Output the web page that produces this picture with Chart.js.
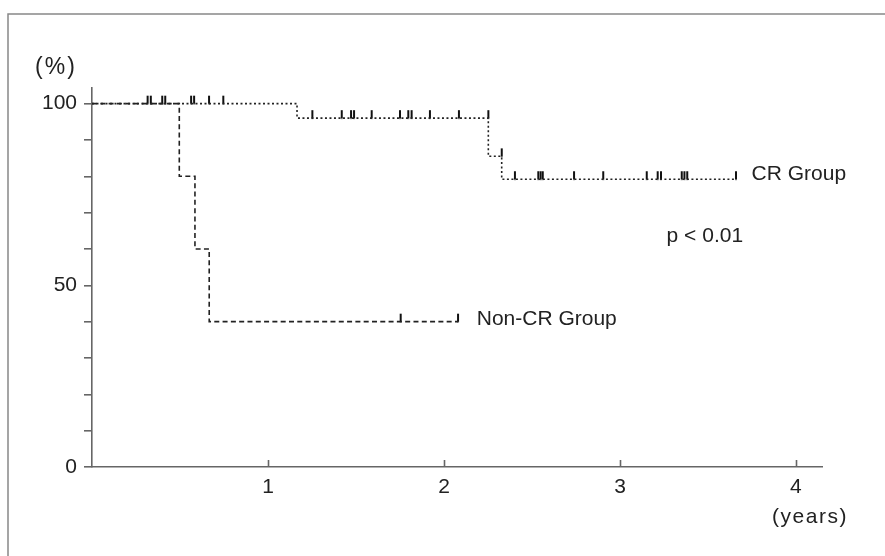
<!DOCTYPE html>
<html><head><meta charset="utf-8">
<script src="https://cdn.jsdelivr.net/npm/chart.js@4"></script>
<style>html,body{margin:0;padding:0;background:#fff;}canvas{display:block;}</style>
</head><body>
<canvas id="c" width="885" height="556"></canvas>
<script>
// ---- data ----
const xTickValues = [1, 2, 3, 4];
const yTickValues = [0, 10, 20, 30, 40, 50, 60, 70, 80, 90, 100];
const yLabelValues = [0, 50, 100];

const crTimes    = [0, 1.165, 2.252, 2.328, 3.659];
const crSurvival = [100, 96, 85.5, 79.2, 79.2];

const nonCrTimes    = [0, 0.496, 0.585, 0.666, 2.080];
const nonCrSurvival = [100, 80, 60, 40, 40];

const crCensorTimes = [0.316, 0.334, 0.399, 0.416, 0.563, 0.580, 0.665, 0.746,
  1.252, 1.419, 1.472, 1.489, 1.589, 1.750, 1.797, 1.816, 1.920, 2.085, 2.252,
  2.328,
  2.403, 2.536, 2.549, 2.561, 2.739, 2.905, 3.152, 3.214, 3.233, 3.351, 3.366, 3.382, 3.659];
const crCensorSurvival = [100, 100, 100, 100, 100, 100, 100, 100,
  96, 96, 96, 96, 96, 96, 96, 96, 96, 96, 96,
  85.5,
  79.2, 79.2, 79.2, 79.2, 79.2, 79.2, 79.2, 79.2, 79.2, 79.2, 79.2, 79.2, 79.2];

const nonCrCensorTimes    = [1.754, 2.080];
const nonCrCensorSurvival = [40, 40];

const labelCR = 'CR Group';
const labelNonCR = 'Non-CR Group';
const pText = 'p < 0.01';
const yUnit = '(%)';
const xUnit = '(years)';

// ---- styling ----
const FONT = "'Liberation Sans', Arial, Helvetica, sans-serif";
const INK = '#222';
const AXIS = '#666';

function pairs(xs, ys) { return xs.map((x, i) => ({ x: x, y: ys[i] })); }

// censor tick glyph: short vertical stroke rising from the point
const censorMark = document.createElement('canvas');
censorMark.width = 4; censorMark.height = 18;
(function () {
  const g = censorMark.getContext('2d');
  g.strokeStyle = '#111'; g.lineWidth = 2;
  g.beginPath(); g.moveTo(2, 1); g.lineTo(2, 9.5); g.stroke();
})();

const decorPlugin = {
  id: 'decor',
  beforeDraw(chart) {
    const ctx = chart.ctx;
    ctx.save();
    ctx.strokeStyle = '#888'; ctx.lineWidth = 1.5;
    ctx.beginPath();
    ctx.moveTo(8, 556); ctx.lineTo(8, 14); ctx.lineTo(885, 14);
    ctx.stroke();
    ctx.restore();
  },
  afterDraw(chart) {
    const ctx = chart.ctx;
    const xs = chart.scales.x, ys = chart.scales.y;
    ctx.save();
    // inward x-axis tick marks
    ctx.strokeStyle = AXIS; ctx.lineWidth = 1.6;
    const y0 = ys.getPixelForValue(0);
    xTickValues.forEach(v => {
      const px = Math.round(xs.getPixelForValue(v)) + 0.5;
      ctx.beginPath(); ctx.moveTo(px, y0); ctx.lineTo(px, y0 - 7); ctx.stroke();
    });
    // texts
    ctx.fillStyle = INK;
    ctx.font = '21px ' + FONT;
    ctx.textBaseline = 'middle';
    ctx.textAlign = 'left';
    ctx.fillText(labelCR, xs.getPixelForValue(3.748), ys.getPixelForValue(80.5));
    ctx.fillText(pText, xs.getPixelForValue(3.265), ys.getPixelForValue(63.4));
    ctx.fillText(labelNonCR, xs.getPixelForValue(2.186), ys.getPixelForValue(40.8));
    ctx.textAlign = 'center';
    ctx.font = '23px ' + FONT;
    if ('letterSpacing' in ctx) ctx.letterSpacing = '2px';
    ctx.fillText(yUnit, 56, 68);
    ctx.font = '21px ' + FONT;
    if ('letterSpacing' in ctx) ctx.letterSpacing = '1.5px';
    ctx.fillText(xUnit, 810, 517);
    ctx.restore();
  }
};

new Chart(document.getElementById('c'), {
  type: 'line',
  data: {
    datasets: [
      {
        label: labelNonCR,
        data: pairs(nonCrTimes, nonCrSurvival),
        stepped: 'before',
        borderColor: INK, borderWidth: 1.6, borderDash: [5, 3.3],
        pointRadius: 0, fill: false
      },
      {
        label: labelCR,
        data: pairs(crTimes, crSurvival),
        stepped: 'before',
        borderColor: INK, borderWidth: 1.6, borderDash: [2, 2.5],
        pointRadius: 0, fill: false
      },
      {
        label: labelCR + ' censored',
        data: pairs(crCensorTimes, crCensorSurvival),
        showLine: false, pointStyle: censorMark, pointRadius: 5
      },
      {
        label: labelNonCR + ' censored',
        data: pairs(nonCrCensorTimes, nonCrCensorSurvival),
        showLine: false, pointStyle: censorMark, pointRadius: 5
      }
    ]
  },
  options: {
    responsive: false,
    animation: false,
    events: [],
    layout: { padding: { top: 88, right: 63, left: 0, bottom: 0 } },
    plugins: { legend: { display: false }, tooltip: { enabled: false } },
    scales: {
      x: {
        type: 'linear', min: 0, max: 4.148,
        afterBuildTicks: s => { s.ticks = xTickValues.map(v => ({ value: v })); },
        afterFit: s => { s.height = 89; },
        grid: { display: false, drawTicks: false },
        border: { display: true, color: AXIS, width: 1.6 },
        ticks: { padding: 8, color: INK, font: { family: FONT, size: 21 }, maxRotation: 0 }
      },
      y: {
        type: 'linear', min: 0, max: 104.3,
        afterBuildTicks: s => { s.ticks = yTickValues.map(v => ({ value: v })); },
        afterFit: s => { s.width = 92; },
        grid: { drawOnChartArea: false, drawTicks: true, tickLength: 8, color: AXIS, lineWidth: 1.6 },
        border: { display: true, color: AXIS, width: 1.6 },
        ticks: {
          padding: 7, color: INK, font: { family: FONT, size: 21 },
          callback: v => (yLabelValues.includes(v) ? String(v) : '')
        }
      }
    }
  },
  plugins: [decorPlugin]
});
</script>
</body></html>
